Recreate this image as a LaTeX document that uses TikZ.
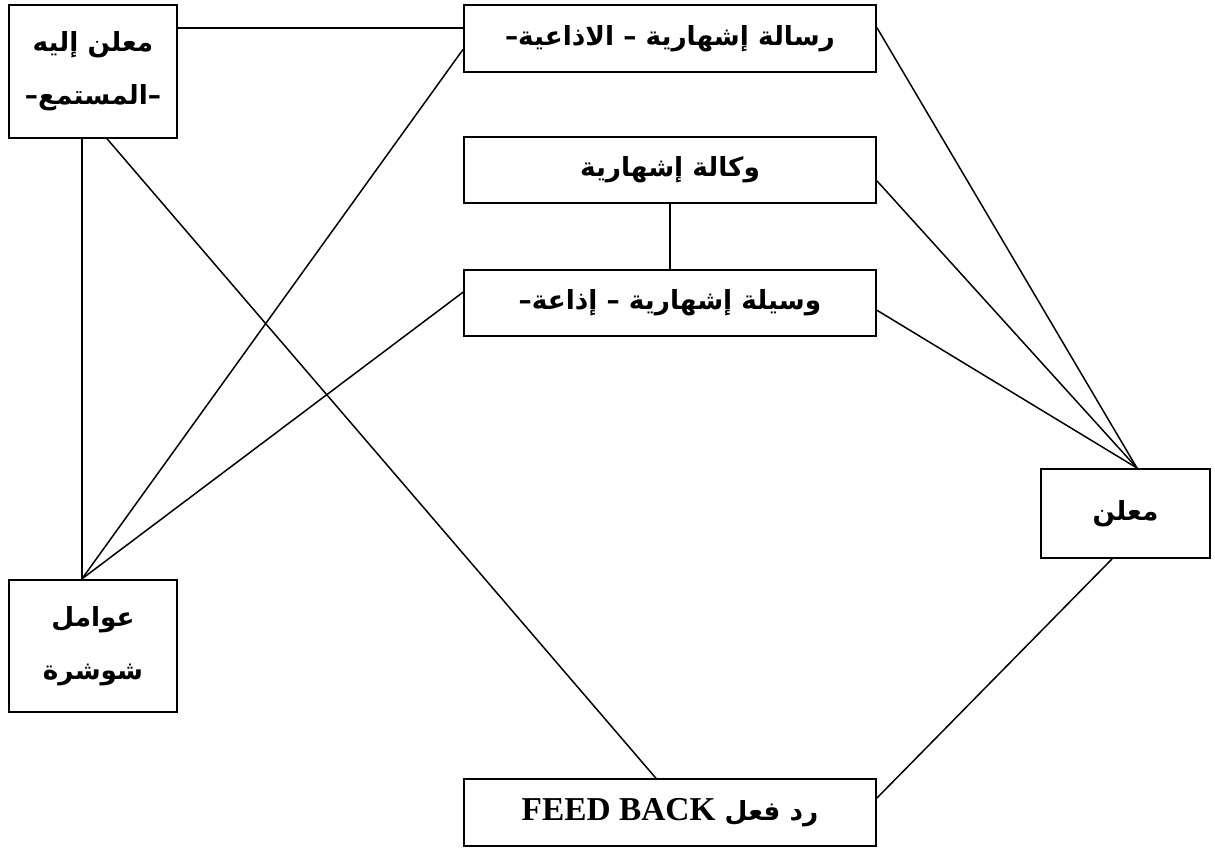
\documentclass[tikz,border=0pt]{standalone}
\usepackage{fontspec}
\TeXXeTstate=1
\setmainfont{Liberation Serif}
\newfontfamily\arabicfont[Script=Arabic]{DejaVu Sans}
\usetikzlibrary{calc}
\tikzset{
  box/.style={draw, line width=1.1pt, inner sep=0pt, align=center,
    font=\arabicfont\bfseries\fontsize{15}{30}\selectfont},
  wide/.style={box, minimum width=8.24cm, minimum height=1.33cm},
  tall/.style={box, minimum width=3.36cm, minimum height=2.65cm},
  conn/.style={line width=0.85pt}
}
\begin{document}
\begin{tikzpicture}[x=0.02cm, y=-0.02cm]
\useasboundingbox (0,0) rectangle (1215,850);
\node[tall] (lis) at (93,71.5) {\beginR معلن إليه\endR\\ \beginR –المستمع–\endR};
\node[wide] (msg) at (670,38.5) {\beginR رسالة إشهارية – الاذاعية–\endR};
\node[wide] (agency) at (670,170) {\beginR وكالة إشهارية\endR};
\node[wide] (medium) at (670,303) {\beginR وسيلة إشهارية – إذاعة–\endR};
\node[box, minimum width=3.38cm, minimum height=1.78cm] (adv) at (1125.5,513.5) {\beginR معلن\endR};
\node[tall] (noise) at (93,646) {\beginR عوامل\endR\\ \beginR شوشرة\endR};
\node[wide] (fb) at (670,812.5) {\beginR رد فعل \beginL{\rmfamily\bfseries\fontsize{19}{22}\selectfont FEED BACK}\endL\endR};
\coordinate (conv) at ($(adv.north)+(11.5,0)$);
\coordinate (ntop) at ($(noise.north)+(-11,0)$);
\coordinate (lbot1) at ($(lis.south)+(-11,0)$);
\coordinate (lbot2) at ($(lis.south)+(14,0)$);
\coordinate (ftop) at ($(fb.north)+(-14,0)$);
\coordinate (abot) at ($(adv.south)+(-13.5,0)$);
\draw[conn] (lis.27.9) -- (lis.27.9 -| msg.west);
\draw[conn] (msg.3.2) -- (conv);
\draw[conn] (agency.-3.4) -- (conv);
\draw[conn] (medium.-2.8) -- (conv);
\draw[conn] (agency) -- (medium);
\draw[conn] (msg.183.2) -- (ntop);
\draw[conn] (medium.177.2) -- (ntop);
\draw[conn] (lbot1) -- (ntop);
\draw[conn] (lbot2) -- (ftop);
\draw[conn] (fb.4.3) -- (abot);
\end{tikzpicture}
\end{document}
